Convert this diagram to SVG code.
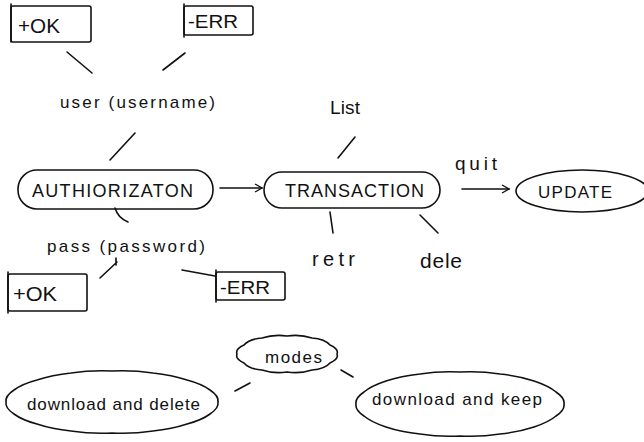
<svg xmlns="http://www.w3.org/2000/svg" width="644" height="442" viewBox="0 0 644 442">
<defs>
<style>
.s{fill:none;stroke:#111;stroke-width:1.6;stroke-linecap:round;stroke-linejoin:round}
.t{font-family:"Liberation Sans","DejaVu Sans",sans-serif;fill:#111;font-weight:normal}
</style>
<marker id="ah" markerWidth="10" markerHeight="10" refX="8" refY="5" orient="auto" markerUnits="userSpaceOnUse">
<path d="M1,1 L8,5 L1,9" fill="none" stroke="#111" stroke-width="1.4"/>
</marker>
</defs>
<rect width="644" height="442" fill="#fff"/>
<g id="connectors" class="s">
<line x1="67" y1="52" x2="92" y2="73"/>
<line x1="185" y1="53" x2="163" y2="70"/>
<line x1="135" y1="133" x2="110" y2="160"/>
<line x1="220" y1="188" x2="262" y2="188" marker-end="url(#ah)"/>
<line x1="462" y1="189" x2="509" y2="189" marker-end="url(#ah)"/>
<line x1="355" y1="137" x2="338" y2="158"/>
<line x1="330" y1="212" x2="333" y2="233"/>
<line x1="420" y1="215" x2="438" y2="233"/>
<path d="M115,208 Q118,218 128,222"/>
<path d="M116,258 L116,265 M117,262 L100,278"/>
<line x1="182" y1="270" x2="215" y2="276"/>
<line x1="235" y1="391" x2="250" y2="383"/>
<line x1="341" y1="370" x2="353" y2="377"/>
</g>
<g id="ok1">
<rect class="s" x="11" y="6" width="80" height="36" rx="2"/>
<line class="s" x1="11" y1="4" x2="11" y2="42"/>
<text class="t" x="18" y="33" font-size="21" textLength="42" lengthAdjust="spacingAndGlyphs">+OK</text>
</g>
<g id="err1">
<rect class="s" x="184" y="6" width="69" height="29" rx="2"/>
<line class="s" x1="184" y1="4" x2="184" y2="37"/>
<text class="t" x="188" y="28" font-size="19" textLength="50" lengthAdjust="spacingAndGlyphs">-ERR</text>
</g>
<g id="user">
<text class="t" x="60" y="108" font-size="17" textLength="155" lengthAdjust="spacing">user (username)</text>
</g>
<g id="authorization">
<rect class="s" x="18" y="170" width="195" height="39" rx="19"/>
<text class="t" x="32" y="197" font-size="18" textLength="161" lengthAdjust="spacing">AUTHIORIZATON</text>
</g>
<g id="pass">
<text class="t" x="47" y="252" font-size="17" textLength="158" lengthAdjust="spacing">pass (password)</text>
</g>
<g id="ok2">
<rect class="s" x="8" y="274" width="79" height="37" rx="2"/>
<line class="s" x1="8" y1="272" x2="8" y2="313"/>
<text class="t" x="13" y="301" font-size="21" textLength="44" lengthAdjust="spacingAndGlyphs">+OK</text>
</g>
<g id="err2">
<rect class="s" x="216" y="272" width="69" height="28" rx="2"/>
<line class="s" x1="216" y1="270" x2="216" y2="302"/>
<text class="t" x="220" y="294" font-size="19" textLength="50" lengthAdjust="spacingAndGlyphs">-ERR</text>
</g>
<g id="transaction">
<rect class="s" x="264" y="172" width="176" height="36" rx="18"/>
<text class="t" x="285" y="197" font-size="18" textLength="139" lengthAdjust="spacing">TRANSACTION</text>
</g>
<g id="list">
<text class="t" x="330" y="114" font-size="19" textLength="30" lengthAdjust="spacing">List</text>
</g>
<g id="retr">
<text class="t" x="312" y="266" font-size="20" textLength="43" lengthAdjust="spacing">retr</text>
</g>
<g id="dele">
<text class="t" x="420" y="268" font-size="21" textLength="42" lengthAdjust="spacing">dele</text>
</g>
<g id="quit">
<text class="t" x="455" y="170" font-size="19" textLength="42" lengthAdjust="spacing">quit</text>
</g>
<g id="update">
<ellipse class="s" cx="582" cy="191" rx="66" ry="21"/>
<text class="t" x="538" y="198" font-size="17" textLength="74" lengthAdjust="spacing">UPDATE</text>
</g>
<g id="modes">
<path class="s" d="M337,354 Q339,359 330,363 Q325,369 312,370 Q300,374 287,372 Q274,374 262,370 Q249,369 244,363 Q235,359 237,354 Q235,349 244,345 Q249,339 262,338 Q274,334 287,336 Q300,334 312,338 Q325,339 330,345 Q339,349 337,354 Z"/>
<text class="t" x="265" y="363" font-size="17" textLength="57" lengthAdjust="spacing">modes</text>
</g>
<g id="download-delete">
<path class="s" d="M218,402 Q219,408 210,414 Q202,420 187,424 Q172,429 153,431 Q133,434 112,433 Q91,434 71,431 Q52,429 37,424 Q22,420 14,414 Q5,408 6,402 Q5,396 14,390 Q22,384 37,380 Q52,375 71,373 Q91,370 112,371 Q133,370 153,373 Q172,375 187,380 Q202,384 210,390 Q219,396 218,402 Z"/>
<text class="t" x="27" y="410" font-size="17" textLength="173" lengthAdjust="spacing">download and delete</text>
</g>
<g id="download-keep">
<path class="s" d="M564,404 Q565,410 556,416 Q549,422 534,427 Q519,432 500,434 Q481,437 460,436 Q439,437 420,434 Q401,432 386,427 Q371,422 364,416 Q355,410 356,404 Q355,398 364,392 Q371,386 386,381 Q401,376 420,374 Q439,371 460,372 Q481,371 500,374 Q519,376 534,381 Q549,386 556,392 Q565,398 564,404 Z"/>
<text class="t" x="372" y="405" font-size="17" textLength="170" lengthAdjust="spacing">download and keep</text>
</g>
</svg>
